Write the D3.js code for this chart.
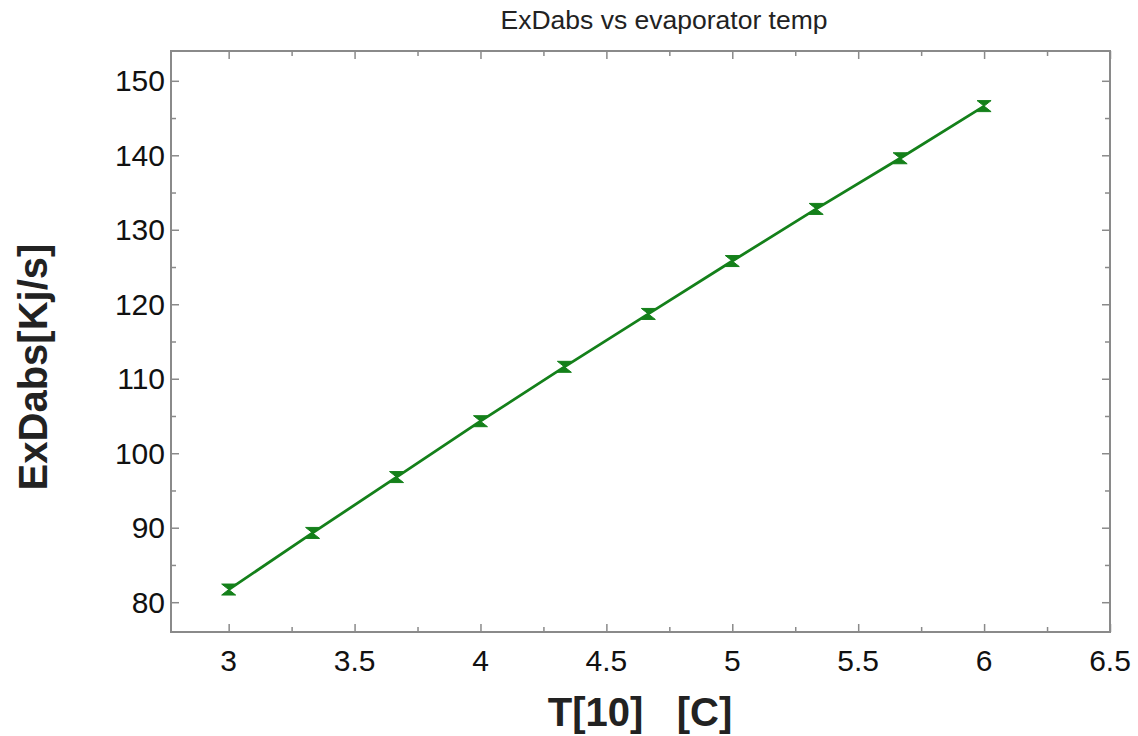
<!DOCTYPE html>
<html><head><meta charset="utf-8">
<script src="https://cdn.jsdelivr.net/npm/d3@7"></script>
<style>body{margin:0;background:#fff}svg{display:block}</style>
</head><body>
<svg id="c" width="1138" height="736"></svg>
<script>
const temps = [3, 3.3333, 3.6667, 4, 4.3333, 4.6667, 5, 5.3333, 5.6667, 6];
const exdabs = [81.7, 89.3, 96.8, 104.3, 111.6, 118.7, 125.8, 132.8, 139.6, 146.6];
const xTicks = [3, 3.5, 4, 4.5, 5, 5.5, 6, 6.5];
const yTicks = [80, 90, 100, 110, 120, 130, 140, 150];
const title = "ExDabs vs evaporator temp";
const xTitle = "T[10]   [C]";
const yTitle = "ExDabs[Kj/s]";

const L = 171, R = 1110, T = 51, B = 632;
const svg = d3.select("#c");
const x = d3.scaleLinear().domain([2.771, 6.5]).range([L, R]);
const y = d3.scaleLinear().domain([76, 154]).range([B, T]);
const axisCol = "#8a8a8a", font = "Liberation Sans, Arial, sans-serif";

const xMinor = d3.range(2.75, 6.51, 0.25).filter(v => v >= 2.771 && xTicks.indexOf(v) < 0);
const yMinor = d3.range(75, 155, 5).filter(v => v >= 76 && v <= 154 && yTicks.indexOf(v) < 0);

function styleAxis(g) {
  g.select(".domain").remove();
  g.selectAll(".tick line").attr("stroke", axisCol).attr("stroke-width", 1.5);
  g.selectAll("text").remove();
}
svg.append("g").attr("transform", `translate(0,${B})`).call(d3.axisTop(x).tickValues(xTicks).tickSize(8)).call(styleAxis);
svg.append("g").attr("transform", `translate(0,${B})`).call(d3.axisTop(x).tickValues(xMinor).tickSize(5)).call(styleAxis);
svg.append("g").attr("transform", `translate(0,${T})`).call(d3.axisBottom(x).tickValues(xTicks).tickSize(8)).call(styleAxis);
svg.append("g").attr("transform", `translate(0,${T})`).call(d3.axisBottom(x).tickValues(xMinor).tickSize(5)).call(styleAxis);
svg.append("g").attr("transform", `translate(${L},0)`).call(d3.axisRight(y).tickValues(yTicks).tickSize(8)).call(styleAxis);
svg.append("g").attr("transform", `translate(${L},0)`).call(d3.axisRight(y).tickValues(yMinor).tickSize(5)).call(styleAxis);
svg.append("g").attr("transform", `translate(${R},0)`).call(d3.axisLeft(y).tickValues(yTicks).tickSize(8)).call(styleAxis);
svg.append("g").attr("transform", `translate(${R},0)`).call(d3.axisLeft(y).tickValues(yMinor).tickSize(5)).call(styleAxis);

svg.append("rect").attr("x", L).attr("y", T).attr("width", R - L).attr("height", B - T)
  .attr("fill", "none").attr("stroke", axisCol).attr("stroke-width", 2);

svg.append("g").selectAll("text").data(xTicks).join("text")
  .attr("x", d => x(d)).attr("y", 671).attr("text-anchor", "middle")
  .attr("font-family", font).attr("font-size", 30).attr("fill", "#111")
  .text(d => d);
svg.append("g").selectAll("text").data(yTicks).join("text")
  .attr("x", 165).attr("y", d => y(d) + 10.5).attr("text-anchor", "end")
  .attr("font-family", font).attr("font-size", 30).attr("fill", "#111")
  .text(d => d);

svg.append("text").attr("x", 664).attr("y", 29).attr("text-anchor", "middle")
  .attr("font-family", font).attr("font-size", 26.5).attr("fill", "#222").text(title);
svg.append("text").attr("x", 640).attr("y", 726).attr("text-anchor", "middle")
  .attr("font-family", font).attr("font-size", 40).attr("font-weight", "bold").attr("fill", "#222")
  .attr("xml:space", "preserve").style("white-space", "pre").text(xTitle);
svg.append("text").attr("transform", "translate(47,367) rotate(-90)").attr("text-anchor", "middle")
  .attr("font-family", font).attr("font-size", 40).attr("font-weight", "bold").attr("fill", "#222").text(yTitle);

const green = "#14801a";
const pts = temps.map((t, i) => [t, exdabs[i]]);
svg.append("path").datum(pts)
  .attr("d", d3.line().x(d => x(d[0])).y(d => y(d[1])))
  .attr("fill", "none").attr("stroke", green).attr("stroke-width", 2.8);
svg.append("g").selectAll("path").data(pts).join("path")
  .attr("transform", d => `translate(${x(d[0])},${y(d[1])})`)
  .attr("d", "M-7,-5.5 L7,-5.5 L0,0 L7,5.5 L-7,5.5 L0,0 Z")
  .attr("fill", green).attr("stroke", green).attr("stroke-width", 1);
</script>
</body></html>
